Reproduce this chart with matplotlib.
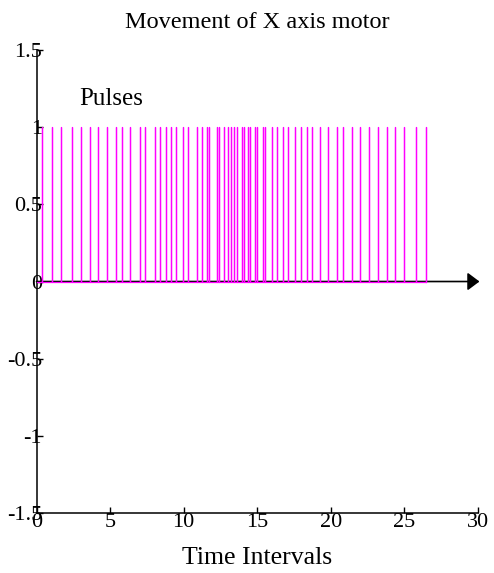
import numpy as np
import matplotlib
matplotlib.use("Agg")
import matplotlib.pyplot as plt

plt.rcParams['font.family'] = ['Liberation Serif', 'DejaVu Serif']
plt.rcParams['axes.unicode_minus'] = False

# pulse instants (time intervals)
pulse_times = [0.35, 1.03, 1.66, 2.39, 3.02, 3.63, 4.20, 4.81, 5.40, 5.83,
               6.35, 7.03, 7.37, 8.05, 8.39, 8.80, 9.14, 9.46, 9.97, 10.31,
               10.88, 11.22, 11.60, 11.74, 12.24, 12.40, 12.76, 13.03, 13.21,
               13.42, 13.60, 13.98, 14.10, 14.39, 14.50, 14.84, 14.96, 15.41,
               15.52, 15.98, 16.32, 16.77, 17.11, 17.56, 17.97, 18.36, 18.74,
               19.26, 19.78, 20.39, 20.80, 21.45, 21.98, 22.59, 23.22, 23.79,
               24.35, 24.97, 25.80, 26.46]
pulse_level = 1
x_ticks = [0, 5, 10, 15, 20, 25, 30]
y_ticks = [-1.5, -1, -0.5, 0, 0.5, 1, 1.5]
y_ticklabels = ['-1.5', '-1', '-0.5', '0', '0.5', '1', '1.5']

# build the spike train: 0 -> 1 -> 0 at each pulse
tx = [0.0]
ty = [0.0]
for t in pulse_times:
    tx += [t, t, t]
    ty += [0, pulse_level, 0]

fig = plt.figure(figsize=(4.94, 5.73), dpi=100)
ax = fig.add_axes([0.0739, 0.1047, 0.8937, 0.808])

# zero axis with arrow
ax.annotate('', xy=(30.1, 0), xytext=(0, 0), xycoords='data',
            arrowprops=dict(arrowstyle='-|>,head_length=0.4,head_width=0.3',
                            color='black', lw=1.2, mutation_scale=18,
                            shrinkA=0, shrinkB=0),
            annotation_clip=False, zorder=2)

ax.plot(tx, ty, color='#ff00ff', lw=0.9, zorder=3)

ax.set_xlim(0, 30)
ax.set_ylim(-1.5, 1.5)
ax.set_xticks(x_ticks)
ax.set_yticks(y_ticks)
ax.set_yticklabels(y_ticklabels)
ax.tick_params(axis='both', direction='in', length=4, width=1, labelsize=16)
ax.tick_params(axis='y', pad=-4)
ax.tick_params(axis='x', pad=0)
for s in ['top', 'right']:
    ax.spines[s].set_visible(False)
for s in ['left', 'bottom']:
    ax.spines[s].set_linewidth(1.1)

ax.text(2.9, 1.18, 'Pulses', fontsize=18, va='center', ha='left')
ax.set_title('Movement of X axis motor', fontsize=17.5, pad=16)
ax.set_xlabel('Time Intervals', fontsize=18.5, labelpad=11)

fig.savefig('out.png', dpi=100)
